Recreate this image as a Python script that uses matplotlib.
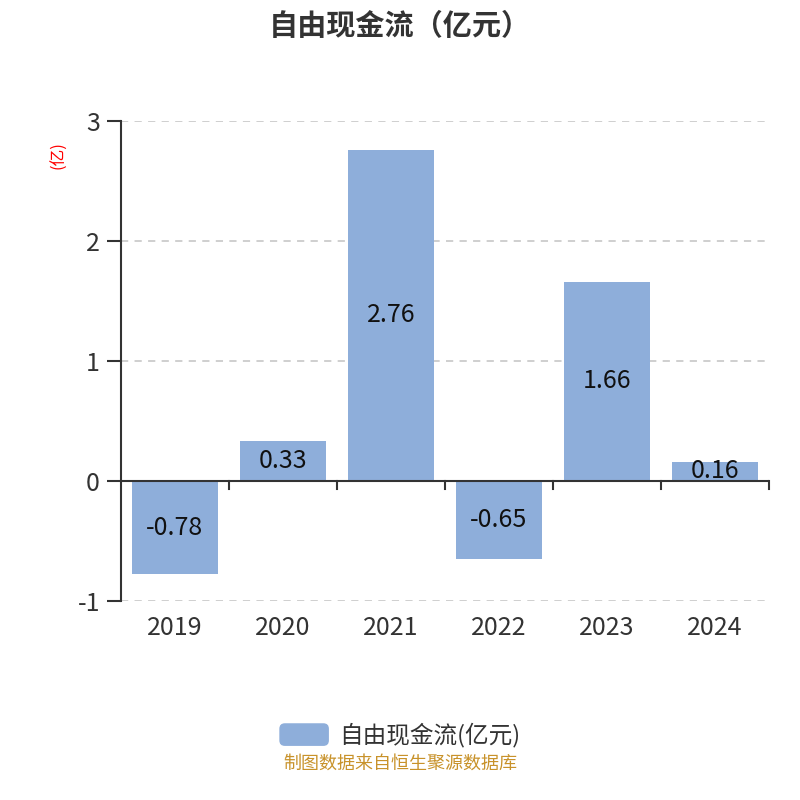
import matplotlib
matplotlib.use("Agg")
import matplotlib.pyplot as plt
from matplotlib.patches import FancyBboxPatch, Patch
from matplotlib.legend_handler import HandlerPatch

plt.rcParams['font.family'] = ['Noto Sans CJK SC', 'DejaVu Sans']

# data
years = ["2019", "2020", "2021", "2022", "2023", "2024"]
values = [-0.78, 0.33, 2.76, -0.65, 1.66, 0.16]
yticks = [-1, 0, 1, 2, 3]

bar_color = "#8EAEDA"
text_color = "#333333"


def rounded_patch(legend, orig_handle, xdescent, ydescent, width, height, fontsize):
    return FancyBboxPatch((-xdescent, -ydescent), width, height,
                          boxstyle="round,pad=0,rounding_size=4",
                          facecolor=bar_color, edgecolor="none")


fig = plt.figure(figsize=(8, 8), dpi=100)
ax = fig.add_axes([0.151, 0.249, 0.81, 0.60])

x = list(range(len(years)))
ax.bar(x, values, width=0.8, color=bar_color, zorder=2)

for xi, v in zip(x, values):
    ax.text(xi, v / 2, "{:.2f}".format(v), ha="center", va="center",
            fontsize=18, color="#111111", zorder=3)

ax.set_xlim(-0.5, len(years) - 0.5)
ax.set_ylim(-1, 3)
ax.set_yticks(yticks)
ax.set_yticklabels([str(t) for t in yticks])

for t in yticks:
    if t != 0:
        ax.axhline(t, color="#cccccc", linestyle=(0, (4, 3.5)), linewidth=1.3, zorder=1)

# x axis line at zero with ticks between categories
ax.axhline(0, color=text_color, linewidth=1.5, zorder=3)
for b in [i + 0.5 for i in range(len(years))]:
    ax.plot([b, b], [0, -0.07], color=text_color, linewidth=1.5, zorder=3, clip_on=False)

ax.set_xticks(x)
ax.set_xticklabels(years)
ax.tick_params(axis="x", length=0, pad=10, labelsize=18, labelcolor=text_color)
ax.tick_params(axis="y", length=10, width=1.5, color=text_color, labelsize=18,
               labelcolor=text_color, pad=5)

for s in ["top", "right", "bottom"]:
    ax.spines[s].set_visible(False)
ax.spines["left"].set_color(text_color)
ax.spines["left"].set_linewidth(1.5)

fig.text(0.5, 0.968, "自由现金流（亿元）", ha="center", va="center",
         fontsize=21, fontweight="bold", color=text_color)
fig.text(0.074, 0.806, "(亿)", ha="center", va="center", rotation=90,
         fontsize=12, color="red")

handle = Patch(facecolor=bar_color, label="自由现金流(亿元)")
fig.legend(handles=[handle], loc="center", bbox_to_anchor=(0.5, 0.081),
           frameon=False, fontsize=17, handlelength=2.1, handleheight=1.1,
           handletextpad=0.45, labelcolor=text_color,
           handler_map={Patch: HandlerPatch(patch_func=rounded_patch)})

fig.text(0.5, 0.046, "制图数据来自恒生聚源数据库", ha="center", va="center",
         fontsize=13, color="#C8922A")

fig.savefig("out.png", dpi=100)
